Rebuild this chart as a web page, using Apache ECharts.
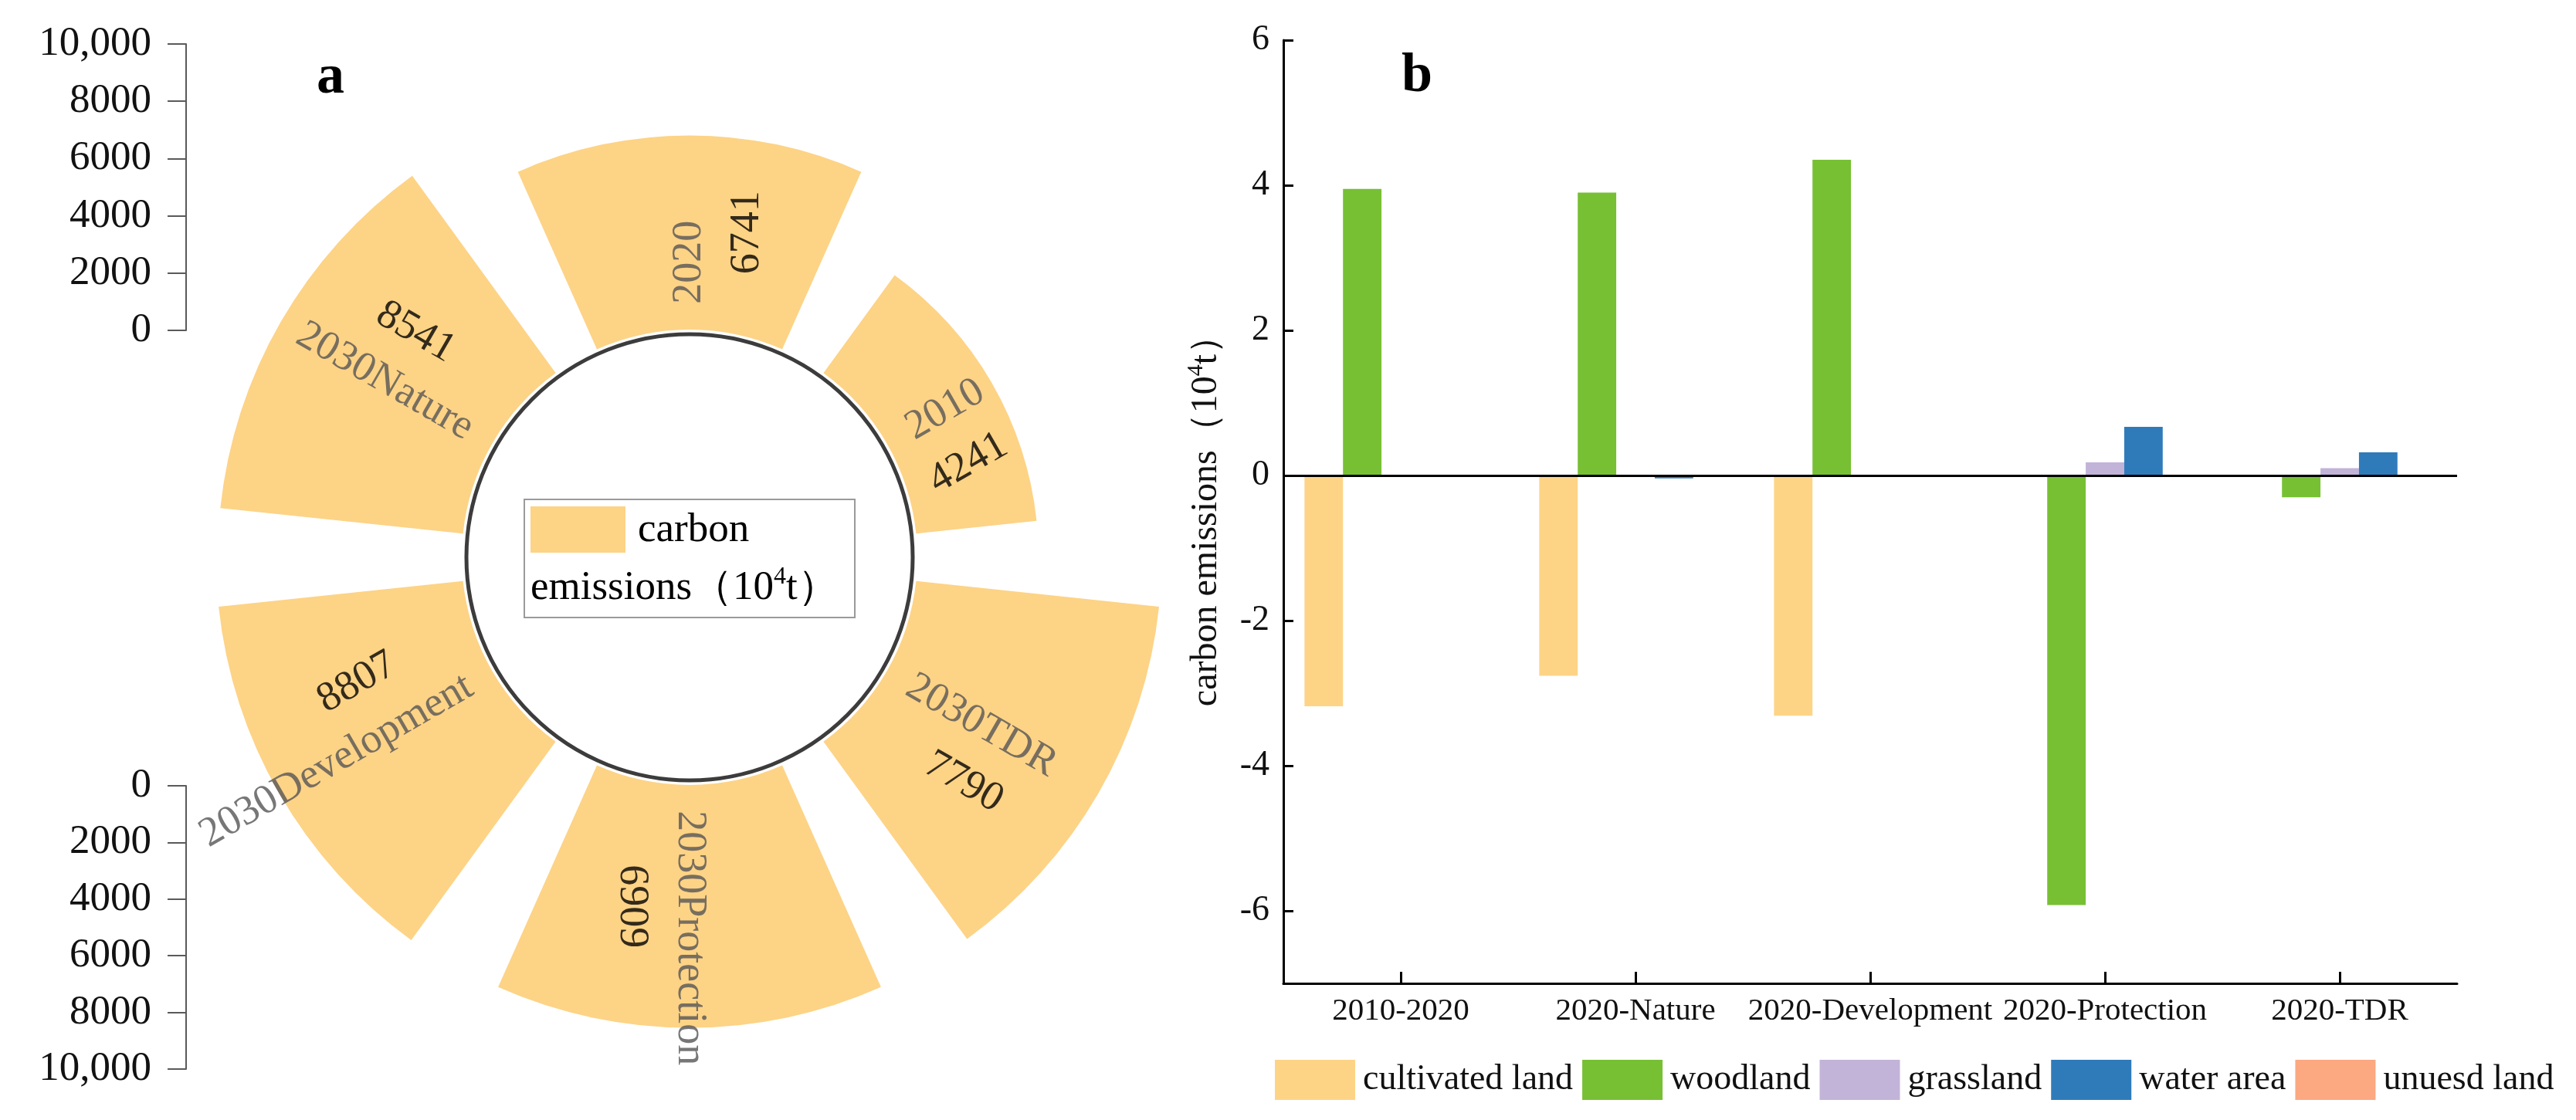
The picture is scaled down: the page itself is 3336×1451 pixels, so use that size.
<!DOCTYPE html>
<html>
<head>
<meta charset="utf-8">
<script src="https://cdn.jsdelivr.net/npm/echarts@6/dist/echarts.min.js"></script>
<style>
html,body{margin:0;padding:0;background:#ffffff;}
#c{width:3336px;height:1451px;}
</style>
</head>
<body>
<div id="c"></div>
<script>
// ---------------- Panel a data ----------------
const sectorCategories = ['2020', '2010', '2030TDR', '2030Protection', '2030Development', '2030Nature'];
// numbers printed on the sectors
const printedEmissions = [6741, 4241, 7790, 6909, 8807, 8541];
// radial length of each sector as drawn, read against the 0–10,000 scale
// (several sectors are drawn with lengths that differ from their printed numbers)
const drawnEmissions = [6800, 4241, 8550, 8500, 8600, 8541];
const radialTicks = [0, 2000, 4000, 6000, 8000, 10000];

// ---------------- Panel b data ----------------
const periods = ['2010-2020', '2020-Nature', '2020-Development', '2020-Protection', '2020-TDR'];
const landTypes = ['cultivated land', 'woodland', 'grassland', 'water area', 'unuesd land'];
const cultivatedLand = [-3.18, -2.76, -3.31, 0, 0];
const woodland = [3.95, 3.90, 4.35, -5.92, -0.30];
const grassland = [0, 0, 0, 0.18, 0.10];
const waterArea = [0, -0.04, 0, 0.67, 0.32];
const unusedLand = [0, 0, 0, 0, 0];
const changeTicks = [-6, -4, -2, 0, 2, 4, 6];

// ---------------- styling ----------------
const SERIF = "'Liberation Serif', 'Times New Roman', serif";
const SECTOR_COLOR = '#FDD386';
const landColors = ['#FDD486', '#77C034', '#C2B3D9', '#2F7BBA', '#FCA881'];
const CAT_LABEL_R = 900;      // radial data position where category labels start
const VALUE_SHIFT = 75;       // tangential shift of the value labels (px)

const nCat = sectorCategories.length;
function radialRotation(i) {
  let rot = 90 - i * 360 / nCat;
  while (rot <= -180) rot += 360;
  while (rot > 180) rot -= 360;
  let flipped = false;
  if (rot > 90) { rot -= 180; flipped = true; }
  else if (rot < -90) { rot += 180; flipped = true; }
  return { rot, flipped };
}

const catLabelData = sectorCategories.map((c, i) => {
  const r = radialRotation(i);
  return {
    value: [CAT_LABEL_R, i],
    label: { rotate: r.rot, align: r.flipped ? 'right' : 'left' }
  };
});
const valueLabelData = printedEmissions.map((v, i) => {
  const r = radialRotation(i);
  return {
    value: [drawnEmissions[i] / 2, i],
    label: { rotate: r.rot, align: 'center', offset: [0, r.flipped ? -VALUE_SHIFT : VALUE_SHIFT] }
  };
});

const chart = echarts.init(document.getElementById('c'), null, { renderer: 'canvas', width: 3336, height: 1451 });

const radialAxisCommon = {
  type: 'value', min: 0, max: 10000, interval: 2000,
  axisLine: { show: true, lineStyle: { color: '#5a5a5a', width: 2 } },
  axisTick: { show: true, inside: false, length: 24, lineStyle: { color: '#5a5a5a', width: 2 } },
  axisLabel: {
    show: true, margin: 45, fontFamily: SERIF, fontSize: 53, color: '#111',
    formatter: v => (v === 10000 ? '10,000' : String(v))
  },
  splitLine: { show: false }
};

const landData = [cultivatedLand, woodland, grassland, waterArea, unusedLand];
const barSeries = landTypes.map((name, k) => {
  const s = {
    name: name, type: 'bar', xAxisIndex: 2, yAxisIndex: 2,
    data: landData[k], barGap: '0%', barCategoryGap: '18%',
    itemStyle: { color: landColors[k] }
  };
  if (k === 0) {
    s.markLine = {
      silent: true, symbol: ['none', 'none'], label: { show: false },
      lineStyle: { color: '#000', type: 'solid', width: 3 },
      data: [{ yAxis: 0 }]
    };
  }
  return s;
});

const option = {
  backgroundColor: '#ffffff',
  animation: false,
  textStyle: { fontFamily: SERIF },
  polar: [
    { center: [893, 722], radius: [295, 665] },
    { center: [893, 722], radius: [0, 289] }
  ],
  angleAxis: [
    {
      polarIndex: 0, type: 'category', data: sectorCategories, startAngle: 120, clockwise: true,
      axisLine: { show: false }, axisTick: { show: false }, axisLabel: { show: false }, splitLine: { show: false }
    },
    {
      polarIndex: 1, type: 'value', min: 0, max: 360,
      axisLine: { show: true, lineStyle: { color: '#3c3c3c', width: 5 } },
      axisTick: { show: false }, axisLabel: { show: false }, splitLine: { show: false }
    }
  ],
  radiusAxis: [
    { polarIndex: 0, type: 'value', min: 0, max: 10000, show: false },
    { polarIndex: 1, type: 'value', min: 0, max: 1, show: false }
  ],
  grid: [
    { left: 241, top: 57, width: 10, height: 371 },
    { left: 241, top: 1018, width: 10, height: 367 },
    { left: 1662, top: 52, width: 1520, height: 1222 }
  ],
  xAxis: [
    { gridIndex: 0, type: 'value', show: false },
    { gridIndex: 1, type: 'value', show: false },
    {
      gridIndex: 2, type: 'category', data: periods,
      axisLine: { show: true, onZero: false, lineStyle: { color: '#000', width: 3 } },
      axisTick: { show: true, inside: true, alignWithLabel: true, length: 15, lineStyle: { color: '#000', width: 3 } },
      axisLabel: { interval: 0, hideOverlap: false, fontFamily: SERIF, fontSize: 41, color: '#111', margin: 16 },
      splitLine: { show: false }
    }
  ],
  yAxis: [
    Object.assign({ gridIndex: 0, position: 'left' }, radialAxisCommon),
    Object.assign({ gridIndex: 1, position: 'left', inverse: true }, radialAxisCommon),
    {
      gridIndex: 2, type: 'value', min: -7, max: 6,
      axisLine: { show: true, lineStyle: { color: '#000', width: 3 } },
      axisTick: { show: true, inside: true, length: 13, lineStyle: { color: '#000', width: 3 }, customValues: changeTicks },
      axisLabel: { customValues: changeTicks, margin: 18, fontFamily: SERIF, fontSize: 46, color: '#111' },
      splitLine: { show: false },
      name: '{t|carbon emissions（10}{s|4}{t|t）}',
      nameLocation: 'middle', nameGap: 72,
      nameTextStyle: {
        rich: {
          t: { fontFamily: SERIF, fontSize: 48, color: '#111', lineHeight: 56 },
          s: { fontFamily: SERIF, fontSize: 30, color: '#111', verticalAlign: 'top', lineHeight: 56 }
        }
      }
    }
  ],
  legend: {
    data: landTypes, left: 1646, top: 1368, orient: 'horizontal',
    itemWidth: 104, itemHeight: 52, itemGap: 12, icon: 'rect',
    textStyle: { fontFamily: SERIF, fontSize: 46, color: '#111', padding: [0, 0, 0, 5] }
  },
  series: [
    {
      name: 'carbon emissions', type: 'bar', coordinateSystem: 'polar', polarIndex: 0,
      data: drawnEmissions, barCategoryGap: '20%',
      itemStyle: { color: SECTOR_COLOR }, z: 2
    },
    {
      name: 'sector names', type: 'scatter', coordinateSystem: 'polar', polarIndex: 0,
      symbolSize: 1, itemStyle: { color: 'rgba(0,0,0,0)' }, z: 5,
      data: catLabelData,
      label: {
        show: true, position: 'inside', verticalAlign: 'middle',
        fontFamily: SERIF, fontSize: 54, color: '#555555',
        formatter: p => sectorCategories[p.dataIndex]
      }
    },
    {
      name: 'sector values', type: 'scatter', coordinateSystem: 'polar', polarIndex: 0,
      symbolSize: 1, itemStyle: { color: 'rgba(0,0,0,0)' }, z: 5,
      data: valueLabelData,
      label: {
        show: true, position: 'inside', verticalAlign: 'middle',
        fontFamily: SERIF, fontSize: 54, color: '#000',
        formatter: p => String(printedEmissions[p.dataIndex])
      }
    }
  ].concat(barSeries),
  graphic: [
    { type: 'text', x: 428, y: 101, z: 20,
      style: { text: 'a', font: 'bold 72px ' + SERIF, fill: '#000', align: 'center', verticalAlign: 'middle' } },
    { type: 'text', x: 1835, y: 99, z: 20,
      style: { text: 'b', font: 'bold 72px ' + SERIF, fill: '#000', align: 'center', verticalAlign: 'middle' } },
    { type: 'rect', z: 20, shape: { x: 679, y: 647, width: 428, height: 153 },
      style: { fill: '#ffffff', stroke: '#9a9a9a', lineWidth: 2 } },
    { type: 'rect', z: 21, shape: { x: 687, y: 656, width: 123, height: 60 },
      style: { fill: SECTOR_COLOR } },
    { type: 'text', z: 21, x: 826, y: 687,
      style: { text: 'carbon', font: '53px ' + SERIF, fill: '#000', align: 'left', verticalAlign: 'middle' } },
    { type: 'text', z: 21, x: 687, y: 762,
      style: {
        text: '{t|emissions（10}{s|4}{t|t）}', align: 'left', verticalAlign: 'middle',
        rich: {
          t: { fontFamily: SERIF, fontSize: 53, fill: '#000', color: '#000', lineHeight: 60 },
          s: { fontFamily: SERIF, fontSize: 32, fill: '#000', color: '#000', verticalAlign: 'top', lineHeight: 60 }
        }
      } }
  ]
};

chart.setOption(option);
</script>
</body>
</html>
